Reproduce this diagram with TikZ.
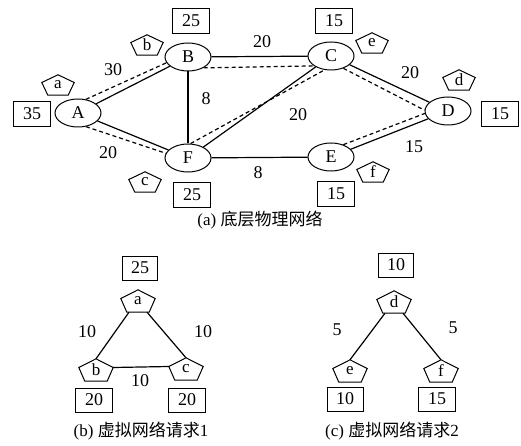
\documentclass[tikz,border=0pt]{standalone}
\usepackage{fontspec}
\setmainfont{Liberation Serif}
\newfontfamily\cjk{Noto Sans CJK SC}
\usetikzlibrary{shapes.geometric}
\newcommand\pentdraw[1]{\draw[pentline] (#1.north) -- ([yshift=2.5pt]#1.east) -- ([xshift=-6pt]#1.south east) -- ([xshift=6pt]#1.south west) -- ([yshift=2.5pt]#1.west) -- cycle;}
\begin{document}
\begin{tikzpicture}[x=1pt,y=-1pt,
  phys/.style={draw, ellipse, line width=1pt, minimum width=46pt, minimum height=28pt, inner sep=0pt, font=\fontsize{18}{18}\selectfont},
  valbox/.style={draw, line width=1pt, minimum width=37pt, minimum height=25pt, inner sep=0pt, font=\fontsize{18}{18}\selectfont},
  pnode/.style={inner sep=0pt, minimum width=32pt, minimum height=20pt, font=\fontsize{17}{17}\selectfont},
  bignode/.style={inner sep=0pt, minimum width=34pt, minimum height=22pt, font=\fontsize{17}{17}\selectfont},
  pentline/.style={line width=1pt, line join=miter},
  lab/.style={inner sep=0pt, font=\fontsize{18}{18}\selectfont},
  captext/.style={inner sep=0pt, font=\fontsize{17}{17}\selectfont},
  edge/.style={line width=1.2pt},
  vmap/.style={line width=1.2pt, dash pattern=on 4pt off 3pt}
]
\useasboundingbox (0,0) rectangle (521,446);
% physical network
\node[phys] (A) at (78,113) {A};
\node[phys] (B) at (188,57) {B};
\node[phys] (C) at (331,56) {C};
\node[phys] (D) at (448,111) {D};
\node[phys] (E) at (331,157) {E};
\node[phys] (F) at (188,158) {F};
\node[valbox] (bA) at (32,114) {35};
\node[valbox] (bB) at (191,21) {25};
\node[valbox] (bC) at (334,21) {15};
\node[valbox] (bD) at (500,114) {15};
\node[valbox] (bE) at (336,194) {15};
\node[valbox] (bF) at (192,195) {25};
\node[pnode] (pa) at (58,85) {a};
\node[pnode] (pb) at (147,45) {b};
\node[pnode] (pc) at (145,182) {c};
\node[pnode] (pe) at (372,43) {e};
\node[pnode] (pd) at (459,80) {d};
\node[pnode] (pf) at (373,172) {f};
\foreach \n in {pa,pb,pc,pd,pe,pf} {\pentdraw{\n}}
\draw[edge] (A) -- (B);
\draw[edge] (A) -- (F);
\draw[edge] (B) -- (C);
\draw[edge] (B) -- (F);
\draw[edge] (F) -- (C);
\draw[edge] (C) -- (D);
\draw[edge] (F) -- (E);
\draw[edge] (E) -- (D);
\draw[vmap] (A.60) -- (B.195);
\draw[vmap] (A.-60) -- (F.168);
\draw[vmap] (B.-35) -- (C.-150);
\draw[vmap] (F.80) -- (C.-115);
\draw[vmap] (C.-45) -- (D.178);
\draw[vmap] (E.45) -- (D.186);
\node[lab] (l1) at (113,70) {30};
\node[lab] (l2) at (262,42) {20};
\node[lab] (l3) at (410,73) {20};
\node[lab] (l4) at (206,99) {8};
\node[lab] (l5) at (298,115) {20};
\node[lab] (l6) at (108,153) {20};
\node[lab] (l7) at (258,173) {8};
\node[lab] (l8) at (414,147) {15};
\node[captext] (capa) at (260,220) {(a) {\cjk 底层物理网络}};
% virtual request 1
\node[valbox, minimum width=35pt, minimum height=24pt] (ba) at (140,268) {25};
\node[bignode] (va) at (138,301) {a};
\node[bignode] (vb) at (96,370) {b};
\node[bignode] (vc) at (186,369) {c};
\node[valbox, minimum width=37pt, minimum height=24pt] (bb) at (94,400) {20};
\node[valbox, minimum width=37pt, minimum height=24pt] (bc) at (187,400) {20};
\foreach \n in {va,vb,vc} {\pentdraw{\n}}
\draw[edge] ([xshift=-9pt]va.south) -- (vb.north);
\draw[edge] ([xshift=9pt]va.south) -- (vc.north);
\draw[edge] ([yshift=2.5pt]vb.east) -- ([yshift=2.5pt]vc.west);
\node[lab] (m1) at (87,332) {10};
\node[lab] (m2) at (203,332) {10};
\node[lab] (m3) at (140,381) {10};
\node[captext] (capb) at (141,431) {(b) {\cjk 虚拟网络请求}1};
% virtual request 2
\node[valbox, minimum width=35pt, minimum height=24pt] (bd) at (396,265) {10};
\node[bignode] (vd) at (394,302) {d};
\node[bignode] (ve) at (350,371) {e};
\node[bignode] (vf) at (441,371) {f};
\node[valbox, minimum width=36pt, minimum height=24pt] (be) at (345,399) {10};
\node[valbox, minimum width=37pt, minimum height=24pt] (bf) at (437,399) {15};
\foreach \n in {vd,ve,vf} {\pentdraw{\n}}
\draw[edge] ([xshift=-9pt]vd.south) -- (ve.north);
\draw[edge] ([xshift=9pt]vd.south) -- (vf.north);
\node[lab] (n1) at (337,330) {5};
\node[lab] (n2) at (453,328) {5};
\node[captext] (capc) at (392,431) {(c) {\cjk 虚拟网络请求}2};
\end{tikzpicture}
\end{document}
